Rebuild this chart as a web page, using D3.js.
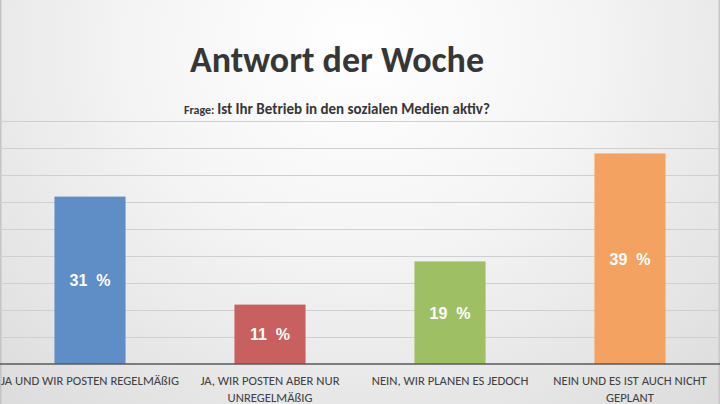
<!DOCTYPE html>
<html><head><meta charset="utf-8">
<script src="https://cdn.jsdelivr.net/npm/d3@7"></script>
<style>
html,body{margin:0;padding:0;overflow:hidden;background:#fff}
svg{display:block}
</style></head>
<body>
<svg id="chart" width="720" height="404"></svg>
<script>
const title = "Antwort der Woche";
const subtitlePrefix = "Frage: ";
const subtitleText = "Ist Ihr Betrieb in den sozialen Medien aktiv?";
const categories = [
  ["JA UND WIR POSTEN REGELMÄßIG"],
  ["JA, WIR POSTEN ABER NUR", "UNREGELMÄßIG"],
  ["NEIN, WIR PLANEN ES JEDOCH"],
  ["NEIN UND ES IST AUCH NICHT", "GEPLANT"]
];
const values = [31, 11, 19, 39];
const valueLabels = ["31  %", "11  %", "19  %", "39  %"];
const colors = ["#5f8ec6", "#c8605f", "#9fbf65", "#f4a261"];
const gridTicks = [0, 5, 10, 15, 20, 25, 30, 35, 40, 45];

const W = 720, H = 404;
const svg = d3.select("#chart");
const defs = svg.append("defs");
const rg = defs.append("radialGradient").attr("id", "bg")
  .attr("cx", "50%").attr("cy", "12%").attr("r", "85%")
  .attr("gradientTransform", "translate(0.5,0.12) scale(1,1.6) translate(-0.5,-0.12)");
rg.append("stop").attr("offset", "0%").attr("stop-color", "#ffffff");
rg.append("stop").attr("offset", "35%").attr("stop-color", "#f5f5f5");
rg.append("stop").attr("offset", "100%").attr("stop-color", "#d6d6d6");
svg.append("rect").attr("width", W).attr("height", H).attr("fill", "url(#bg)");
svg.append("line").attr("x1", 0.5).attr("x2", 0.5).attr("y1", 0).attr("y2", H).attr("stroke", "#c4c4c4").attr("stroke-width", 2);
svg.append("line").attr("x1", W - 0.5).attr("x2", W - 0.5).attr("y1", 0).attr("y2", H).attr("stroke", "#c8c8c8").attr("stroke-width", 2);

const x = d3.scaleBand().domain(d3.range(categories.length)).range([0, W]).paddingInner(0.605).paddingOuter(0.3025);
const y = d3.scaleLinear().domain([0, 45]).range([364, 121]);

// gridlines via axis
const grid = svg.append("g").call(
  d3.axisLeft(y).tickValues(gridTicks.slice(1)).tickSize(-W).tickFormat("")
);
grid.select(".domain").remove();
grid.selectAll(".tick line").attr("stroke", "#cfcfcf").attr("stroke-width", 1.2);

// bars
svg.append("g").selectAll("rect").data(values).join("rect")
  .attr("x", (d, i) => x(i))
  .attr("y", d => y(d))
  .attr("width", x.bandwidth())
  .attr("height", d => y(0) - y(d))
  .attr("fill", (d, i) => colors[i]);

// baseline
svg.append("line").attr("x1", 0).attr("x2", W).attr("y1", y(0)).attr("y2", y(0))
  .attr("stroke", "#595959").attr("stroke-width", 1.5);

// value labels
svg.append("g").selectAll("text").data(values).join("text")
  .attr("x", (d, i) => x(i) + x.bandwidth() / 2)
  .attr("y", d => (y(d) + y(0)) / 2 + 6)
  .attr("text-anchor", "middle")
  .attr("fill", "#ffffff")
  .style("white-space", "pre")
  .attr("font-family", "'Liberation Sans', Arial, sans-serif")
  .attr("font-weight", "bold")
  .attr("font-size", 16)
  .text((d, i) => valueLabels[i]);

// category labels
const band = d3.scaleBand().domain(d3.range(categories.length)).range([0, W]);
const cat = svg.append("g").selectAll("text").data(categories).join("text")
  .attr("x", (d, i) => band(i) + band.bandwidth() / 2)
  .attr("y", 385)
  .attr("text-anchor", "middle")
  .attr("fill", "#404040")
  .attr("font-family", "Carlito, Lato, sans-serif")
  .attr("font-size", 12.7);
cat.selectAll("tspan").data(d => d).join("tspan")
  .attr("x", function () { return d3.select(this.parentNode).attr("x"); })
  .attr("dy", (d, j) => j === 0 ? 0 : 16.5)
  .text(d => d);

// title
svg.append("text").attr("x", 337).attr("y", 72)
  .attr("text-anchor", "middle").attr("fill", "#363636")
  .attr("font-family", "Carlito, Lato, sans-serif").attr("font-weight", "bold")
  .attr("font-size", 36).text(title);

const sub = svg.append("text").attr("x", 337).attr("y", 114)
  .attr("text-anchor", "middle").attr("fill", "#363636")
  .attr("font-family", "Carlito, Lato, sans-serif").attr("font-weight", "bold");
sub.append("tspan").attr("font-size", 12).style("white-space", "pre").text(subtitlePrefix);
sub.append("tspan").attr("font-size", 15).text(subtitleText);
</script>
</body></html>
